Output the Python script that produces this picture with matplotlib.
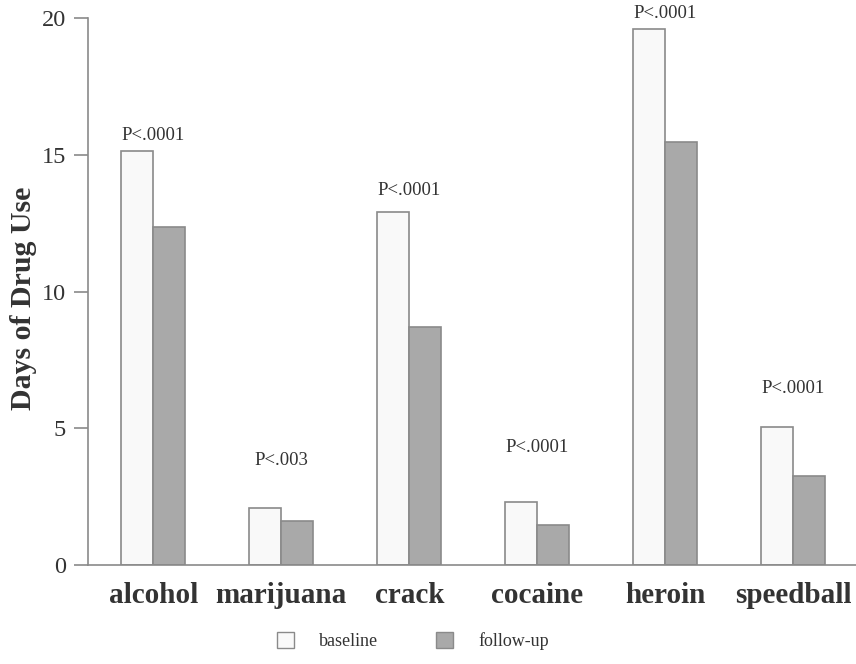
import numpy as np
import matplotlib.pyplot as plt
from matplotlib.patches import Patch

drugs = ['alcohol', 'marijuana', 'crack', 'cocaine', 'heroin', 'speedball']
baseline = [15.15, 2.08, 12.9, 2.3, 19.6, 5.05]
follow_up = [12.35, 1.62, 8.7, 1.45, 15.45, 3.25]
p_labels = ['P<.0001', 'P<.003', 'P<.0001', 'P<.0001', 'P<.0001', 'P<.0001']
p_label_y = [15.4, 3.5, 13.4, 4.0, 19.85, 6.15]  # heights of the p-value texts

plt.rcParams['font.family'] = ['Liberation Serif', 'DejaVu Serif']
txt = '#333333'
edge = '#8a8a8a'

fig = plt.figure(figsize=(8.56, 6.64), dpi=100)
ax = fig.add_axes([88/856, 99/664, 1 - 88/856, (565-18)/664])

x = np.arange(len(drugs))
w = 0.25
ax.bar(x - w/2, baseline, w, color='#f9f9f9', edgecolor=edge, linewidth=1.2)
ax.bar(x + w/2, follow_up, w, color='#a9a9a9', edgecolor=edge, linewidth=1.2)

for xi, lab, yl in zip(x, p_labels, p_label_y):
    ax.text(xi, yl, lab, ha='center', va='bottom', fontsize=13.5, color=txt)

ax.set_xlim(-0.51, 5.49)
ax.set_ylim(0, 20)
ax.set_yticks([0, 5, 10, 15, 20])
ax.set_xticks(x)
ax.set_xticklabels(drugs, fontsize=21, fontweight='bold', color=txt)
ax.tick_params(axis='y', labelsize=17.5, labelcolor=txt, length=10, width=1.2, color=edge, pad=6)
ax.tick_params(axis='x', length=0, pad=12)
ax.set_ylabel('Days of Drug Use', fontsize=21.5, fontweight='bold', color=txt)
ax.yaxis.set_label_coords(-0.066, 0.487)

for s in ['top', 'right']:
    ax.spines[s].set_visible(False)
for s in ['left', 'bottom']:
    ax.spines[s].set_color(edge)
    ax.spines[s].set_linewidth(1.2)

handles = [Patch(facecolor='#f9f9f9', edgecolor=edge, label='baseline'),
           Patch(facecolor='#a9a9a9', edgecolor=edge, label='follow-up')]
fig.legend(handles=handles, loc='center', bbox_to_anchor=(413/856, 1 - 641/664), ncol=2,
           frameon=False, fontsize=13, handlelength=0.95, handleheight=1.0,
           columnspacing=3.2, handletextpad=1.4, labelcolor=txt)

fig.savefig('out.png', dpi=100)
